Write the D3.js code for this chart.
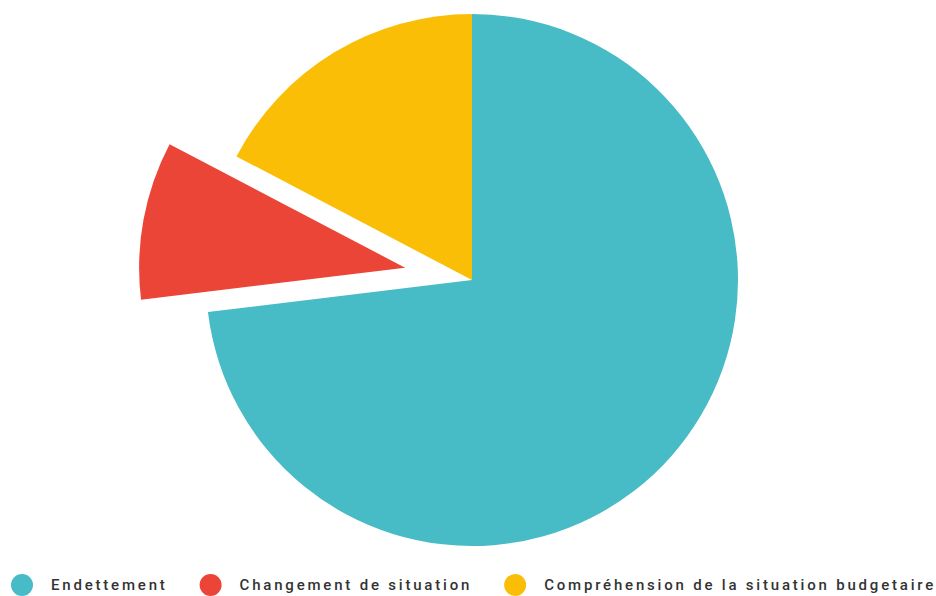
<!DOCTYPE html>
<html>
<head>
<meta charset="utf-8">
<script src="https://cdn.jsdelivr.net/npm/d3@7"></script>
<style>
  body { margin: 0; background: #fff; }
  svg { display: block; }
</style>
</head>
<body>
<div id="chart"></div>
<script>
// Pie data
const labels = ['Endettement', 'Changement de situation', 'Compréhension de la situation budgetaire'];
const values = [38, 5, 9];
const colors = ['#47bbc6', '#ea4537', '#f9be05'];
const explodedIndex = 1;

const width = 936;
const height = 596;
const cx = 472;
const cy = 280;
const radius = 266;
const explodeOffset = 68;

const svg = d3.select('#chart')
  .append('svg')
  .attr('width', width)
  .attr('height', height);

const pie = d3.pie()
  .sort(null)
  .value(d => d);

const arc = d3.arc()
  .innerRadius(0)
  .outerRadius(radius);

const arcs = pie(values);

const pieGroup = svg.append('g')
  .attr('transform', `translate(${cx},${cy})`);

pieGroup.selectAll('path')
  .data(arcs)
  .enter()
  .append('path')
  .attr('d', arc)
  .attr('fill', (d, i) => colors[i])
  .attr('transform', (d, i) => {
    if (i !== explodedIndex) return null;
    const mid = (d.startAngle + d.endAngle) / 2;
    return `translate(${Math.sin(mid) * explodeOffset},${-Math.cos(mid) * explodeOffset})`;
  });

// Legend
const legend = svg.append('g')
  .attr('class', 'legend')
  .attr('transform', `translate(0, 585)`);

let x = 22;
labels.forEach((label, i) => {
  legend.append('circle')
    .attr('cx', x)
    .attr('cy', 0)
    .attr('r', 11)
    .attr('fill', colors[i]);

  const t = legend.append('text')
    .attr('x', x + 29)
    .attr('y', 0)
    .attr('dy', '0.35em')
    .attr('fill', '#333')
    .attr('font-family', 'Roboto, sans-serif')
    .attr('font-size', '15px')
    .attr('font-weight', 500)
    .attr('letter-spacing', '2.8px')
    .text(label);

  x = x + 29 + t.node().getComputedTextLength() + 43;
});
</script>
</body>
</html>
